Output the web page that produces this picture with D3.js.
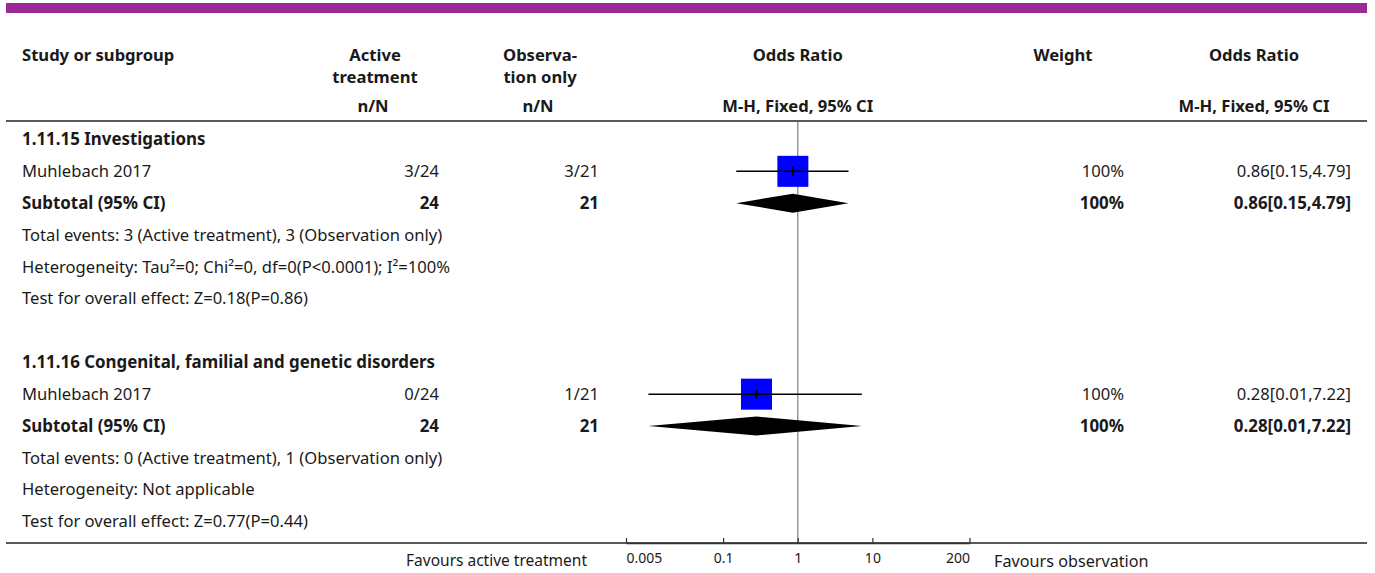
<!DOCTYPE html>
<html>
<head>
<meta charset="utf-8">
<script src="https://cdn.jsdelivr.net/npm/d3@7"></script>
<style>
  html, body { margin: 0; padding: 0; background: #fff; }
  svg { display: block; }
  text { font-family: "Noto Sans", "Open Sans", sans-serif; fill: #1a1a1a; }
  .b { font-weight: bold; }
</style>
</head>
<body>
<svg id="chart" width="1375" height="573"></svg>
<script>
// Forest plot: odds ratios (M-H, fixed effect) by subgroup
const groupTitles = ["1.11.15 Investigations", "1.11.16 Congenital, familial and genetic disorders"];
const studyNames = ["Muhlebach 2017", "Muhlebach 2017"];
const activeEvents = [3, 0];
const activeTotals = [24, 24];
const obsEvents = [3, 1];
const obsTotals = [21, 21];
const orEstimate = [0.86, 0.28];
const orLower = [0.15, 0.01];
const orUpper = [4.79, 7.22];
const weights = [100, 100];
const heterogeneity = ["Tau\u00B2=0; Chi\u00B2=0, df=0(P<0.0001); I\u00B2=100%", "Not applicable"];
const overallEffect = ["Z=0.18(P=0.86)", "Z=0.77(P=0.44)"];
const tickValues = [0.005, 0.1, 1, 10, 200];
const tickLabels = ["0.005", "0.1", "1", "10", "200"];

const svg = d3.select("#chart");
const FS = 16.6;
const FSB = 16.9;
const left = 22, right = 1367, lineLeft = 6;
const colActiveRight = 439, colObsRight = 599;
const colActiveCenter = 375, colObsCenter = 540;
const weightRight = 1124, weightCenter = 1063;
const orRight = 1351, orCenter = 1254;

const x = d3.scaleLog().domain([0.005, 200]).range([626, 969.5]);
const y = d3.scaleLinear().domain([0, 12]).range([139.5, 521.5]);
const boxSize = d3.scaleSqrt().domain([0, 100]).range([0, 31]);
const f2 = d3.format(".2f");
const orText = i => `${f2(orEstimate[i])}[${f2(orLower[i])},${f2(orUpper[i])}]`;

// top band
svg.append("rect").attr("x", lineLeft).attr("y", 3).attr("width", right - lineLeft).attr("height", 10).attr("fill", "#9b2a97");

function txt(xp, yp, s, anchor, bold, size) {
  return svg.append("text")
    .attr("x", xp).attr("y", yp).attr("dy", "0.35em")
    .attr("text-anchor", anchor || "start")
    .attr("class", bold ? "b" : null)
    .style("font-size", (size || (bold ? FSB : FS)) + "px")
    .text(s);
}

// header
const HS = 16.6;
txt(left, 55, "Study or subgroup", "start", true, HS);
txt(colActiveCenter, 55, "Active", "middle", true, HS);
txt(colActiveCenter, 77, "treatment", "middle", true, HS);
txt(colObsCenter, 55, "Observa-", "middle", true, HS);
txt(colObsCenter, 77, "tion only", "middle", true, HS);
txt(x(1), 55, "Odds Ratio", "middle", true, HS);
txt(weightCenter, 55, "Weight", "middle", true, HS);
txt(orCenter, 55, "Odds Ratio", "middle", true, HS);
txt(colActiveCenter - 2, 106, "n/N", "middle", true, HS);
txt(colObsCenter - 2, 106, "n/N", "middle", true, HS);
txt(x(1), 106, "M-H, Fixed, 95% CI", "middle", true, HS);
txt(orCenter, 106, "M-H, Fixed, 95% CI", "middle", true, HS);

svg.append("line").attr("x1", lineLeft).attr("x2", right).attr("y1", 121).attr("y2", 121)
  .attr("stroke", "#222").attr("stroke-width", 1.5);

// line of no effect
svg.append("line").attr("x1", x(1)).attr("x2", x(1)).attr("y1", 122).attr("y2", 543)
  .attr("stroke", "#999").attr("stroke-width", 1.5);

groupTitles.forEach((title, g) => {
  const r0 = g * 7;
  txt(left, y(r0), title, "start", true);

  // study row
  const ys = y(r0 + 1);
  txt(left, ys, studyNames[g]);
  txt(colActiveRight, ys, `${activeEvents[g]}/${activeTotals[g]}`, "end");
  txt(colObsRight, ys, `${obsEvents[g]}/${obsTotals[g]}`, "end");
  txt(weightRight, ys, weights[g] + "%", "end");
  txt(orRight, ys, orText(g), "end");
  const s = boxSize(weights[g]);
  svg.append("rect").attr("x", x(orEstimate[g]) - s / 2).attr("y", ys - s / 2)
    .attr("width", s).attr("height", s).attr("fill", "#0000ff");
  svg.append("line").attr("x1", x(orLower[g])).attr("x2", x(orUpper[g]))
    .attr("y1", ys).attr("y2", ys).attr("stroke", "#000").attr("stroke-width", 1.5);
  svg.append("line").attr("x1", x(orEstimate[g])).attr("x2", x(orEstimate[g]))
    .attr("y1", ys - 4.5).attr("y2", ys + 4.5).attr("stroke", "#000").attr("stroke-width", 1.5);

  // subtotal row
  const yt = y(r0 + 2);
  txt(left, yt, "Subtotal (95% CI)", "start", true);
  txt(colActiveRight, yt, String(activeTotals[g]), "end", true);
  txt(colObsRight, yt, String(obsTotals[g]), "end", true);
  txt(weightRight, yt, weights[g] + "%", "end", true);
  txt(orRight, yt, orText(g), "end", true);
  const hh = 9.5;
  svg.append("path")
    .attr("d", d3.line()([
      [x(orLower[g]), yt], [x(orEstimate[g]), yt - hh],
      [x(orUpper[g]), yt], [x(orEstimate[g]), yt + hh]
    ]) + "Z")
    .attr("fill", "#000");

  txt(left, y(r0 + 3), `Total events: ${activeEvents[g]} (Active treatment), ${obsEvents[g]} (Observation only)`);
  txt(left, y(r0 + 4), `Heterogeneity: ${heterogeneity[g]}`);
  txt(left, y(r0 + 5), `Test for overall effect: ${overallEffect[g]}`);
});

// bottom axis
const axisY = 543;
svg.append("line").attr("x1", lineLeft).attr("x2", right).attr("y1", axisY).attr("y2", axisY)
  .attr("stroke", "#222").attr("stroke-width", 1.5);
const axis = d3.axisBottom(x).tickValues(tickValues)
  .tickFormat((d, i) => tickLabels[i]).tickSizeInner(-5).tickSizeOuter(0).tickPadding(10);
const ga = svg.append("g").attr("transform", `translate(0,${axisY})`).call(axis);
ga.select(".domain").attr("stroke", "#333").attr("stroke-width", 1.5);
ga.selectAll(".tick line").attr("stroke", "#333").attr("stroke-width", 1.2);
const last = tickValues.length - 1;
ga.selectAll(".tick text")
  .style("font-family", "'Noto Sans', 'Open Sans', sans-serif").style("font-size", "14px").attr("fill", "#1a1a1a")
  .attr("text-anchor", (d, i) => i === 0 ? "start" : i === last ? "end" : "middle");

txt(587, 561, "Favours active treatment", "end", false, 15.5);
txt(994, 561, "Favours observation", "start", false, 16.2);
</script>
</body>
</html>
